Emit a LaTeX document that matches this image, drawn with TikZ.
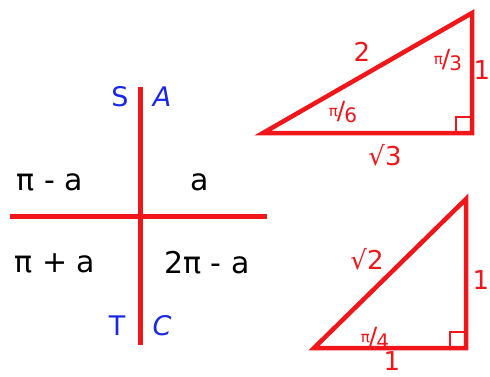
\documentclass[tikz,border=0pt]{standalone}
\usepackage{fontspec}
\setmainfont{DejaVu Sans}
\usetikzlibrary{positioning}
\definecolor{trigred}{RGB}{240,22,26}
\definecolor{trigblue}{RGB}{24,40,230}
% small angle fraction such as pi/3
\newcommand{\angfrac}[2]{\raisebox{0.6ex}{\fontsize{15}{15}\selectfont #1}\kern-1pt{\fontsize{25}{25}\selectfont/}\kern-1pt\raisebox{-0.45ex}{\fontsize{20}{20}\selectfont #2}}
\begin{document}
\begin{tikzpicture}[x=1pt, y=-1pt,
    axisline/.style={draw=trigred, line width=5pt},
    triline/.style={draw=trigred, line width=4.5pt, line join=miter},
    rightbox/.style={draw=trigred, line width=2.8pt},
    quadlabel/.style={font=\fontsize{30}{34}\selectfont, text=black, inner sep=0pt},
    letterlabel/.style={font=\fontsize{27}{30}\selectfont, text=trigblue, inner sep=0pt},
    sidelabel/.style={font=\fontsize{26}{28}\selectfont, text=trigred, inner sep=0pt},
    anglabel/.style={text=trigred, inner sep=0pt}]
    \useasboundingbox (0,0) rectangle (490,376);
    % Quadrant axes
    \coordinate (top) at (140,87);
    \coordinate (bottom) at (140,345);
    \coordinate (left) at (10,216);
    \coordinate (right) at (267,216);
    \draw[axisline] (top) -- (bottom);
    \draw[axisline] (left) -- (right);
    % Quadrant letters
    \node[letterlabel] (sin) at (120,97) {S};
    \node[letterlabel] (all) at (162,97) {\itshape A};
    \node[letterlabel] (tan) at (117,326) {T};
    \node[letterlabel] (cos) at (162,326) {\itshape C};
    % Quadrant angles
    \node[quadlabel] (q2) at (50,182) {π - a};
    \node[quadlabel] (q1) at (200,182) {a};
    \node[quadlabel] (q3) at (55,263) {π + a};
    \node[quadlabel] (q4) at (207,263) {2π - a};
    % Triangle with pi/6 and pi/3
    \coordinate (ta) at (263,133);
    \coordinate (tb) at (472,133);
    \coordinate (tc) at (472,13);
    \draw[triline] (ta) -- (tb) -- (tc) -- cycle;
    \draw[rightbox] (tb) rectangle ++(-16,-16);
    \node[sidelabel] (hyp1) at (362,52) {2};
    \node[sidelabel] (opp1) at (482,70) {1};
    \node[sidelabel] (adj1) at (385,155) {√3};
    \node[anglabel] (ang3) at (448,60) {\angfrac{π}{3}};
    \node[anglabel] (ang6) at (343,112) {\angfrac{π}{6}};
    % Triangle with pi/4
    \coordinate (ua) at (314,348);
    \coordinate (ub) at (466,348);
    \coordinate (uc) at (466,199);
    \draw[triline] (ua) -- (ub) -- (uc) -- cycle;
    \draw[rightbox] (ub) rectangle ++(-16,-16);
    \node[sidelabel] (hyp2) at (367,259) {√2};
    \node[sidelabel] (opp2) at (481,280) {1};
    \node[sidelabel] (adj2) at (392,361) {1};
    \node[anglabel] (ang4) at (375,338) {\angfrac{π}{4}};
\end{tikzpicture}
\end{document}
